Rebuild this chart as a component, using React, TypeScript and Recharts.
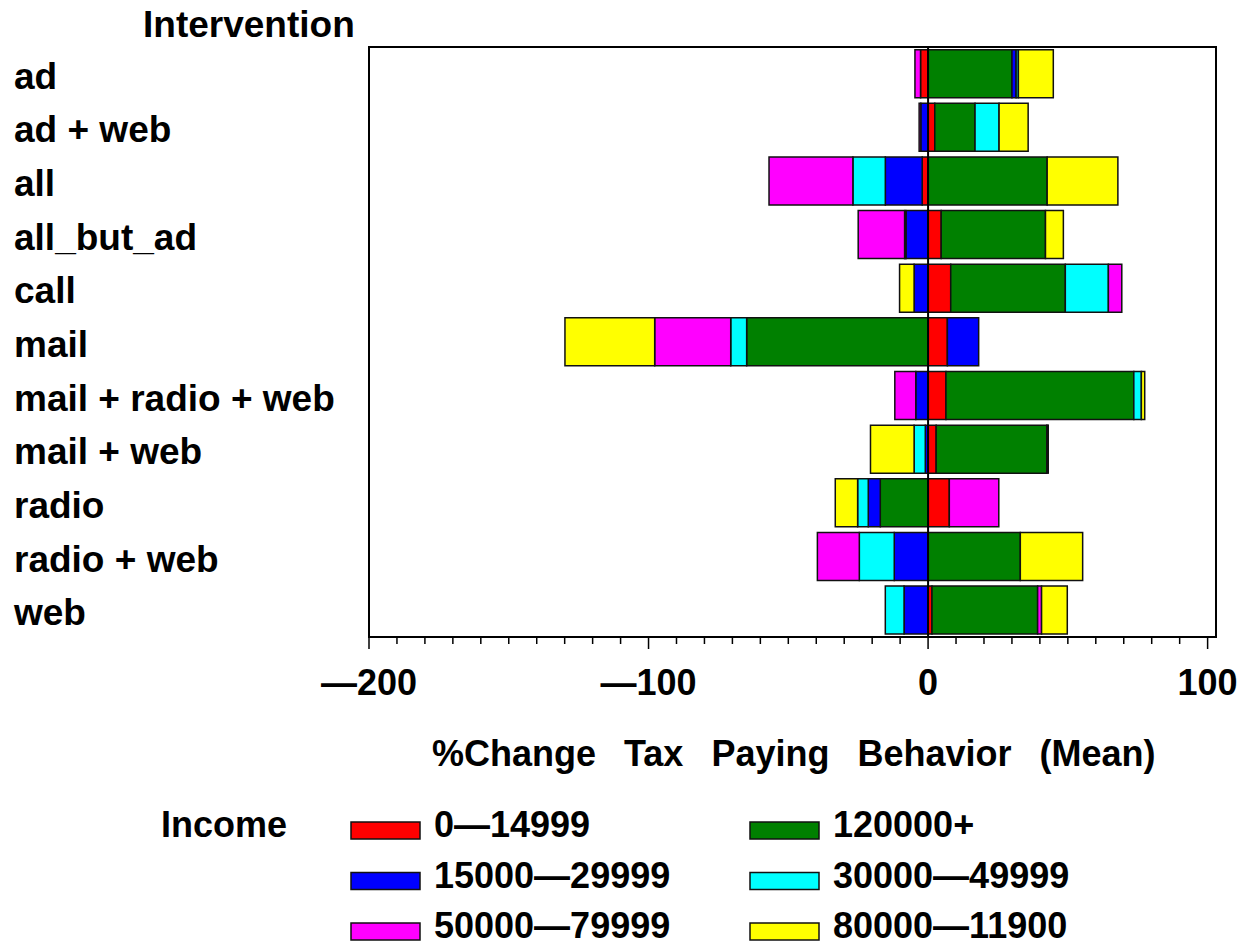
import { Bar, BarChart, ReferenceArea, ReferenceLine, XAxis, YAxis } from 'recharts'

const categories = [
  'ad',
  'ad + web',
  'all',
  'all_but_ad',
  'call',
  'mail',
  'mail + radio + web',
  'mail + web',
  'radio',
  'radio + web',
  'web',
]

// % change per income band, one value per intervention (same order as categories)
const inc0to14999 = [-2.7, 2.4, -2.1, 4.7, 8.1, 6.9, 6.4, 2.9, 7.6, 0, 1.4]
const inc120000plus = [30.0, 14.4, 42.6, 37.3, 41.0, -64.9, 67.2, 39.6, -17.1, 33.0, 37.8]
const inc15000to29999 = [1.5, -2.6, -13.2, -7.9, -5.0, 11.2, -4.4, -1.0, -4.3, -12.1, -8.6]
const inc30000to49999 = [0.8, 8.6, -11.6, -0.5, 15.4, -5.7, 2.7, -4.0, -3.8, -12.5, -6.7]
const inc50000to79999 = [-2.0, -0.6, -30.0, -16.6, 4.8, -27.2, -7.5, 0.5, 17.7, -15.0, 1.4]
const inc80000to11900 = [12.5, 10.4, 25.3, 6.4, -5.2, -32.1, 1.2, -15.6, -8.0, 22.3, 9.2]

const seriesLabels = ['0—14999', '120000+', '15000—29999', '30000—49999', '50000—79999', '80000—11900']
const seriesColors = ['#ff0000', '#008000', '#0000ff', '#00ffff', '#ff00ff', '#ffff00']
const seriesValues = [inc0to14999, inc120000plus, inc15000to29999, inc30000to49999, inc50000to79999, inc80000to11900]

const xTicks = [
  -200, -190, -180, -170, -160, -150, -140, -130, -120, -110, -100, -90, -80, -70, -60, -50, -40, -30, -20,
  -10, 0, 10, 20, 30, 40, 50, 60, 70, 80, 90, 100,
]

const rows = categories.map((name, i) => {
  const r: Record<string, number | string> = { name }
  seriesValues.forEach((vals, k) => (r['s' + k] = vals[i]))
  return r
})

const font = "'Liberation Sans', Arial, sans-serif"
const textStyle = { fontFamily: font, fontWeight: 700, fontSize: 36 }
const catStyle = { ...textStyle, fontSize: 37 }

function fmt(v: number) {
  return v < 0 ? '—' + Math.abs(v) : String(v)
}

function XTick(props: any) {
  const { x, y, payload } = props
  const major = payload.value % 100 === 0
  return (
    <g>
      <line x1={x} x2={x} y1={y} y2={y + (major ? 12 : 7)} stroke="#000" strokeWidth={1.5} />
      {major && (
        <text x={x} y={y + 58} textAnchor="middle" fill="#000" style={textStyle}>
          {fmt(payload.value)}
        </text>
      )}
    </g>
  )
}

function YTick(props: any) {
  const { y, payload } = props
  return (
    <text x={14} y={y + 15} textAnchor="start" fill="#000" style={catStyle}>
      {payload.value}
    </text>
  )
}

export default function App() {
  return (
    <div style={{ position: 'absolute', left: 0, top: 0, width: 1250, height: 947, background: '#fff' }}>
      <BarChart
        width={1250}
        height={720}
        data={rows}
        layout="vertical"
        stackOffset="sign"
        barCategoryGap="5%"
        margin={{ top: 47, right: 34, bottom: 0, left: 0 }}
      >
        <XAxis
          type="number"
          domain={[-200, 103]}
          ticks={xTicks}
          interval={0}
          allowDataOverflow
          height={83}
          tickSize={0}
          tickMargin={0}
          tickLine={false}
          tick={(p: any) => <XTick {...p} />}
          axisLine={{ stroke: '#000', strokeWidth: 2 }}
        />
        <YAxis
          type="category"
          dataKey="name"
          width={369}
          interval={0}
          tickLine={false}
          axisLine={false}
          tick={(p: any) => <YTick {...p} />}
        />
        <ReferenceArea x1={-200} x2={103} fill="none" stroke="#000" strokeWidth={2} ifOverflow="visible" />
        {seriesLabels.map((label, k) => (
          <Bar
            key={label}
            dataKey={'s' + k}
            name={label}
            stackId="a"
            fill={seriesColors[k]}
            stroke="#111"
            strokeWidth={1.5}
            isAnimationActive={false}
          />
        ))}
        <ReferenceLine x={0} stroke="#000" strokeWidth={2} />
      </BarChart>

      <svg width={1250} height={947} style={{ position: 'absolute', left: 0, top: 0, pointerEvents: 'none' }}>
        <text x={143} y={37} style={catStyle}>
          Intervention
        </text>
        <text x={432} y={766} style={{ ...textStyle, wordSpacing: 18 }}>
          %Change Tax Paying Behavior (Mean)
        </text>
        <text x={161} y={837} style={textStyle}>
          Income
        </text>
        {seriesLabels.map((label, k) => {
          const col = k % 2
          const row = Math.floor(k / 2)
          const sx = col === 0 ? 351 : 750
          const top = 822 + row * 50.5
          return (
            <g key={label}>
              <rect x={sx} y={top} width={69} height={17} fill={seriesColors[k]} stroke="#111" strokeWidth={1.5} />
              <text x={sx + 83} y={top + 15} style={textStyle}>
                {label}
              </text>
            </g>
          )
        })}
      </svg>
    </div>
  )
}
